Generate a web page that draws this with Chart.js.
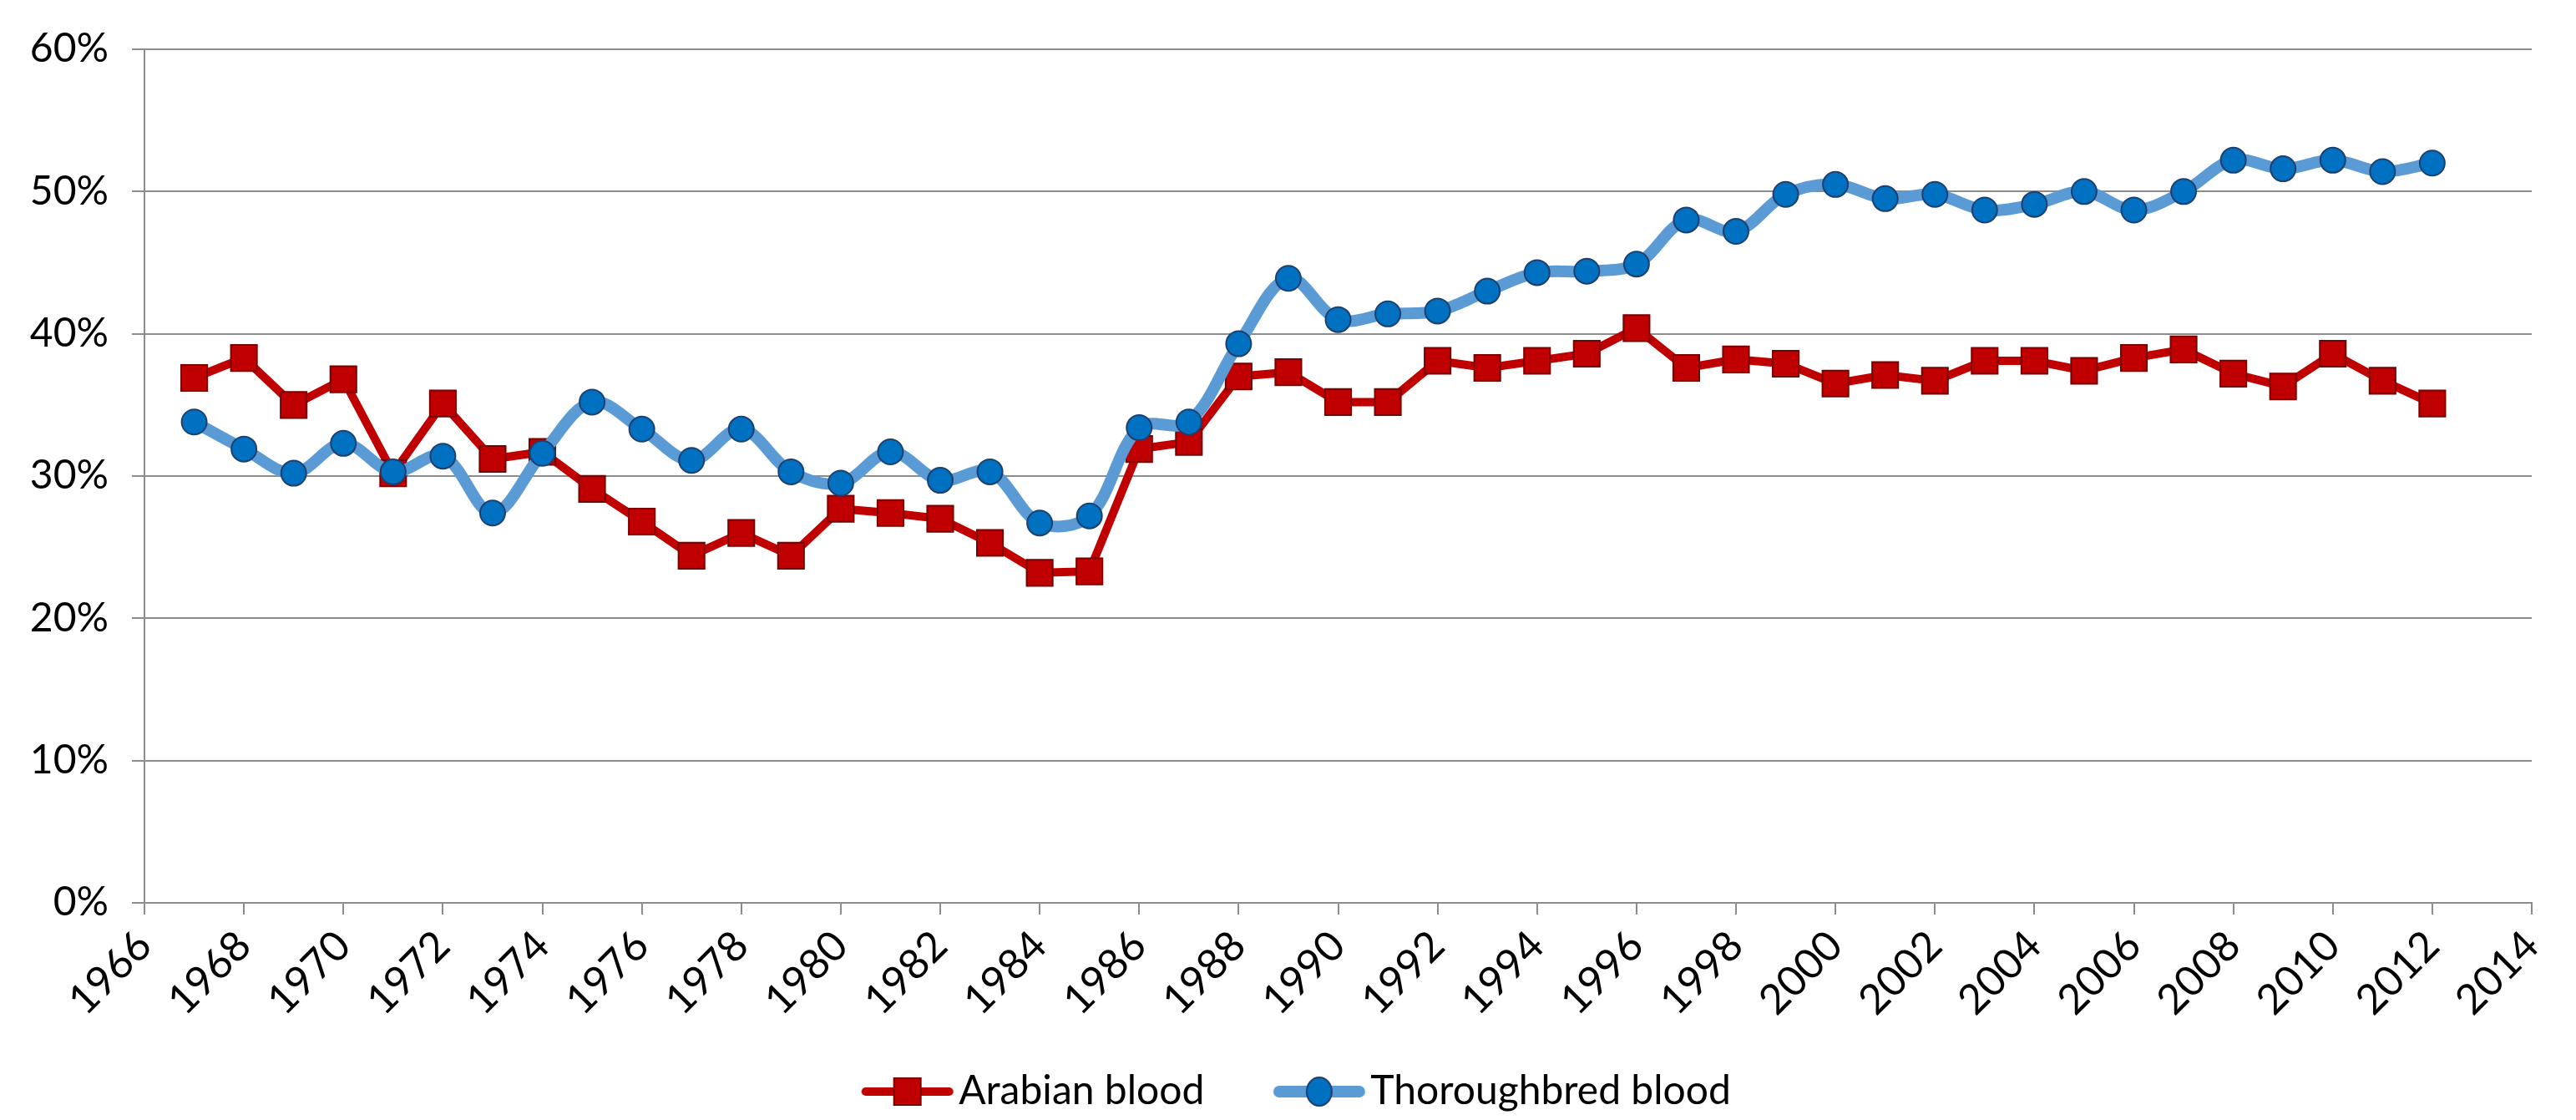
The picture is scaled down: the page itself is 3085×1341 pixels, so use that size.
<!DOCTYPE html>
<html>
<head>
<meta charset="utf-8">
<script src="https://cdn.jsdelivr.net/npm/chart.js@4.4.0/dist/chart.umd.min.js"></script>
<style>
  html, body { margin: 0; padding: 0; background: #fff; }
  canvas { display: block; }
</style>
</head>
<body>
<canvas id="bloodChart" width="3085" height="1341"></canvas>
<script>
// Года и доли крови (%)
const years = [1967, 1968, 1969, 1970, 1971, 1972, 1973, 1974, 1975, 1976,
  1977, 1978, 1979, 1980, 1981, 1982, 1983, 1984, 1985, 1986,
  1987, 1988, 1989, 1990, 1991, 1992, 1993, 1994, 1995, 1996,
  1997, 1998, 1999, 2000, 2001, 2002, 2003, 2004, 2005, 2006,
  2007, 2008, 2009, 2010, 2011, 2012];

const arabian = [36.9, 38.3, 35.0, 36.8, 30.2, 35.1, 31.2, 31.7, 29.1, 26.8,
  24.4, 26.0, 24.4, 27.7, 27.4, 27.0, 25.3, 23.2, 23.3, 31.9,
  32.4, 37.0, 37.3, 35.2, 35.2, 38.1, 37.6, 38.1, 38.6, 40.4,
  37.6, 38.2, 37.9, 36.5, 37.1, 36.7, 38.1, 38.1, 37.4, 38.3,
  38.9, 37.2, 36.3, 38.6, 36.7, 35.1];

const thoroughbred = [33.8, 31.9, 30.2, 32.3, 30.3, 31.4, 27.4, 31.6, 35.2, 33.3,
  31.1, 33.3, 30.3, 29.5, 31.7, 29.7, 30.3, 26.7, 27.2, 33.4,
  33.8, 39.3, 43.9, 41.0, 41.4, 41.6, 43.0, 44.3, 44.4, 44.9,
  48.0, 47.2, 49.8, 50.5, 49.5, 49.8, 48.7, 49.1, 50.0, 48.7,
  50.0, 52.2, 51.6, 52.2, 51.4, 52.0];

const seriesNames = ['Arabian blood', 'Thoroughbred blood'];
const xMin = 1966, xMax = 2014, xStep = 2;
const yMin = 0, yMax = 60, yStep = 10;

const FONT = 'Lato, "Open Sans", sans-serif';
const GRID = '#8c8c8c';

// Значок легенды: линия с маркером, сдвинутая вправо внутри холста
// (так между пунктами легенды получается широкий зазор, а текст стоит вплотную)
const ICON_W = 202, ICON_H = 40, SYM_CX = 146;
function legendIcon(lineColor, lineWidth, marker, fill, stroke) {
  const c = document.createElement('canvas');
  c.width = ICON_W; c.height = ICON_H;
  const g = c.getContext('2d');
  g.strokeStyle = lineColor;
  g.lineWidth = lineWidth;
  g.lineCap = 'round';
  g.beginPath();
  g.moveTo(SYM_CX - 55 + lineWidth / 2, 20);
  g.lineTo(SYM_CX + 55 - lineWidth / 2, 20);
  g.stroke();
  g.fillStyle = fill;
  g.strokeStyle = stroke;
  g.lineWidth = 2;
  if (marker === 'rect') {
    g.fillRect(SYM_CX - 16, 4, 32, 32);
    g.strokeRect(SYM_CX - 16, 4, 32, 32);
  } else {
    g.beginPath();
    g.ellipse(SYM_CX, 20, 15, 17, 0, 0, Math.PI * 2);
    g.fill();
    g.stroke();
  }
  return c;
}

const redIcon = legendIcon('#c00000', 10, 'rect', '#c00000', '#7a0000');
const blueIcon = legendIcon('#5b9bd5', 14, 'circle', '#0070c0', '#1f3f6e');

const toPoints = arr => arr.map((v, i) => ({x: years[i], y: v}));

const ctx = document.getElementById('bloodChart').getContext('2d');
new Chart(ctx, {
  type: 'line',
  data: {
    datasets: [
      {
        label: seriesNames[1],
        data: toPoints(thoroughbred),
        borderColor: '#5b9bd5',
        borderWidth: 14,
        tension: 0.35,
        pointStyle: 'circle',
        pointRadius: 15,
        pointBackgroundColor: '#0070c0',
        pointBorderColor: '#1f3f6e',
        pointBorderWidth: 2
      },
      {
        label: seriesNames[0],
        data: toPoints(arabian),
        borderColor: '#c00000',
        borderWidth: 10,
        tension: 0,
        pointStyle: 'rect',
        pointRadius: 22,
        pointBackgroundColor: '#c00000',
        pointBorderColor: '#7a0000',
        pointBorderWidth: 2
      }
    ]
  },
  options: {
    responsive: false,
    devicePixelRatio: 1,
    animation: false,
    layout: {padding: {top: 59, right: 53, left: 0, bottom: 0}},
    plugins: {
      tooltip: {enabled: false},
      legend: {
        position: 'bottom',
        labels: {
          usePointStyle: true,
          pointStyleWidth: 165,
          padding: 10,
          color: '#000',
          font: {family: FONT, size: 48},
          generateLabels: () => [
            {text: seriesNames[0], pointStyle: redIcon, datasetIndex: 1,
             fillStyle: '#c00000', strokeStyle: '#c00000', lineWidth: 0, fontColor: '#000'},
            {text: seriesNames[1], pointStyle: blueIcon, datasetIndex: 0,
             fillStyle: '#0070c0', strokeStyle: '#0070c0', lineWidth: 0, fontColor: '#000'}
          ]
        }
      }
    },
    scales: {
      x: {
        type: 'linear',
        min: xMin,
        max: xMax,
        afterFit: scale => { scale.height = 192; },
        ticks: {
          stepSize: xStep,
          autoSkip: false,
          minRotation: 45,
          maxRotation: 45,
          padding: 8,
          color: '#000',
          font: {family: FONT, size: 50},
          callback: v => String(v)
        },
        grid: {
          drawOnChartArea: false,
          drawTicks: true,
          tickLength: 14,
          color: GRID,
          lineWidth: 2
        },
        border: {display: true, color: GRID, width: 2}
      },
      y: {
        min: yMin,
        max: yMax,
        afterFit: scale => { scale.width = 173; },
        ticks: {
          stepSize: yStep,
          padding: 28,
          color: '#000',
          font: {family: FONT, size: 48},
          callback: v => v + '%'
        },
        grid: {
          color: GRID,
          lineWidth: 2,
          tickLength: 15
        },
        border: {display: true, color: GRID, width: 2}
      }
    }
  }
});
</script>
</body>
</html>
